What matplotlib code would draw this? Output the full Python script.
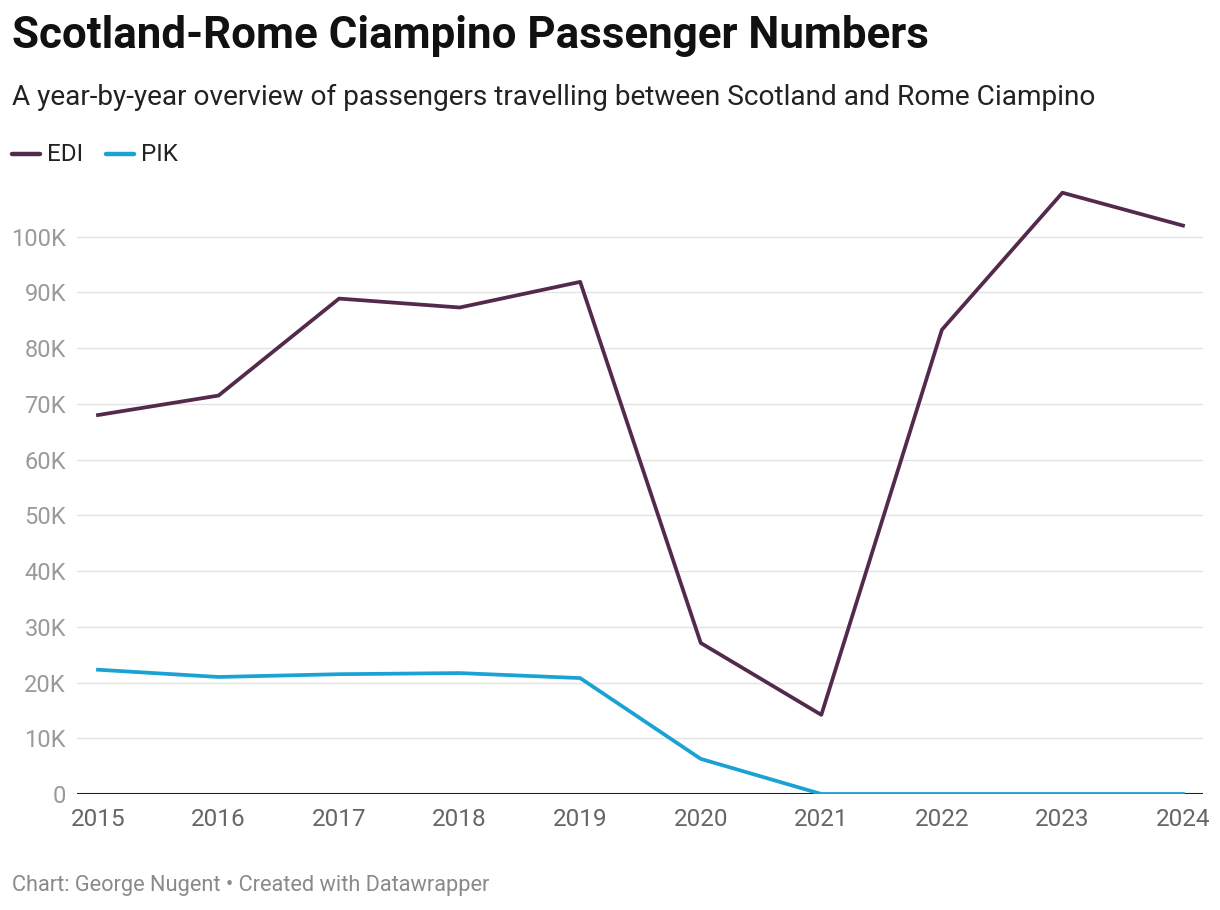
import matplotlib
matplotlib.use("Agg")
import matplotlib.pyplot as plt
from matplotlib.ticker import FuncFormatter

years = [2015, 2016, 2017, 2018, 2019, 2020, 2021, 2022, 2023, 2024]
edi = [68000, 71500, 88900, 87300, 91900, 27100, 14200, 83300, 107900, 102000]
pik = [22300, 21000, 21500, 21700, 20800, 6300, 0, 0, 0, 0]
y_ticks = [0, 10000, 20000, 30000, 40000, 50000, 60000, 70000, 80000, 90000, 100000]

plt.rcParams['font.family'] = ['Roboto', 'DejaVu Sans']

fig = plt.figure(figsize=(12.2, 9.1), dpi=100)
ax = fig.add_axes([77/1220, 116/910, 1126/1220, 613/910])

edi_col = '#532a4b'
pik_col = '#1aa2d4'
ax.plot(years, edi, color=edi_col, lw=2.7, solid_joinstyle='round', zorder=3)
ax.plot(years, pik, color=pik_col, lw=2.7, solid_joinstyle='round', zorder=3)

ax.set_xlim(2015 - 0.174, 2024 + 0.166)
ax.set_ylim(0, 110000)
ax.set_yticks(y_ticks)
ax.yaxis.set_major_formatter(FuncFormatter(lambda v, p: '0' if v == 0 else '%dK' % (v / 1000)))
ax.set_xticks(years)
ax.grid(axis='y', color='#e3e3e3', lw=1)
ax.set_axisbelow(True)
for s in ax.spines.values():
    s.set_visible(False)
ax.axhline(0, color='#222222', lw=1.5, zorder=2)
ax.tick_params(axis='y', length=0, pad=8, labelsize=17, labelcolor='#9a9a9a')
ax.tick_params(axis='x', length=0, pad=10, labelsize=17.5, labelcolor='#666666')

fig.text(12/1220, 1 - 36/910, 'Scotland-Rome Ciampino Passenger Numbers', fontsize=31.6,
         fontweight='bold', color='#111111', va='center', ha='left')
fig.text(12/1220, 1 - 97/910, 'A year-by-year overview of passengers travelling between Scotland and Rome Ciampino',
         fontsize=20.2, color='#222222', va='center', ha='left')

# legend
ly = 1 - 154/910
fig.lines.append(plt.Line2D([12/1220, 40/1220], [ly, ly], transform=fig.transFigure,
                            color=edi_col, lw=3.2, solid_capstyle='round'))
fig.text(47/1220, ly, 'EDI', fontsize=17.5, color='#222222', va='center', ha='left')
fig.lines.append(plt.Line2D([106/1220, 134/1220], [ly, ly], transform=fig.transFigure,
                            color=pik_col, lw=3.2, solid_capstyle='round'))
fig.text(141/1220, ly, 'PIK', fontsize=17.5, color='#222222', va='center', ha='left')

fig.text(12/1220, 1 - 886/910, 'Chart: George Nugent \u2022 Created with Datawrapper',
         fontsize=15.7, color='#8a8a8a', va='center', ha='left')

fig.savefig('out.png', dpi=100)
